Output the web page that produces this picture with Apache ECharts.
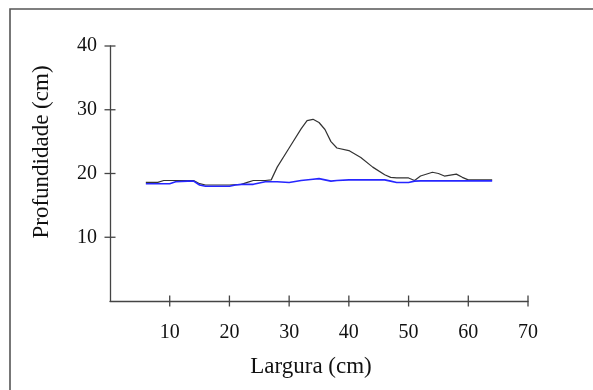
<!DOCTYPE html>
<html>
<head>
<meta charset="utf-8">
<script src="https://cdn.jsdelivr.net/npm/echarts@6/dist/echarts.min.js"></script>
<style>
  html, body { margin: 0; padding: 0; background: #fff; }
  #chart { width: 593px; height: 390px; }
</style>
</head>
<body>
<div id="chart"></div>
<script>
// profile measured before (black) and after (blue)
const blackX = [6, 8, 9, 10, 12, 14, 15, 16, 18, 20, 22, 23, 24, 26, 27, 28, 30, 32, 33, 34, 35, 36, 37, 38, 40, 42, 44, 46, 47, 48, 50, 51, 52, 54, 55, 56, 58, 59, 60, 62, 64];
const blackY = [18.6, 18.6, 18.9, 18.9, 18.9, 18.9, 18.4, 18.2, 18.2, 18.2, 18.3, 18.6, 18.9, 18.9, 19.0, 21.0, 24.0, 27.0, 28.3, 28.5, 28.0, 26.9, 25.0, 24.0, 23.6, 22.5, 21.0, 19.8, 19.4, 19.3, 19.3, 18.9, 19.6, 20.2, 20.0, 19.6, 19.9, 19.4, 19.0, 19.0, 19.0];
const blueX = [6, 8, 10, 11, 13, 14, 15, 16, 18, 20, 21, 22, 24, 25, 26, 28, 30, 32, 34, 35, 36, 37, 38, 40, 42, 44, 46, 47, 48, 50, 51, 52, 54, 56, 58, 60, 62, 64];
const blueY = [18.4, 18.4, 18.4, 18.7, 18.8, 18.8, 18.2, 18.0, 18.0, 18.0, 18.2, 18.3, 18.3, 18.5, 18.7, 18.7, 18.6, 18.9, 19.1, 19.2, 19.0, 18.8, 18.9, 19.0, 19.0, 19.0, 19.0, 18.8, 18.6, 18.6, 18.8, 18.85, 18.85, 18.85, 18.85, 18.85, 18.85, 18.85];

const xTicks = [10, 20, 30, 40, 50, 60, 70];
const yTicks = [10, 20, 30, 40];

const chart = echarts.init(document.getElementById('chart'));

const serif = 'Liberation Serif';
const axisColor = '#444';
const tickHalf = 5.5;

function pairs(xs, ys) {
  return xs.map((x, i) => [x, ys[i]]);
}

// ticks that cross the axis line, placed through the axis scale
function crossTick(vertical) {
  return (params, api) => {
    const p = api.coord([api.value(0), api.value(1)]);
    const shape = vertical
      ? { x1: p[0], y1: p[1] - tickHalf, x2: p[0], y2: p[1] + tickHalf }
      : { x1: p[0] - tickHalf, y1: p[1], x2: p[0] + tickHalf, y2: p[1] };
    return { type: 'line', shape: shape, style: { stroke: axisColor, lineWidth: 1.3 } };
  };
}

const axisLine = { show: true, onZero: false, lineStyle: { color: axisColor, width: 1.3 } };

chart.setOption({
  animation: false,
  grid: { left: 110, top: 46, right: 65, bottom: 89 },
  graphic: [
    {
      type: 'rect',
      shape: { x: 10, y: 9, width: 700, height: 500 },
      style: { fill: 'none', stroke: '#555', lineWidth: 1.6 }
    },
    {
      type: 'text',
      x: 42, y: 152,
      rotation: Math.PI / 2,
      style: {
        text: 'Profundidade (cm)',
        font: '23px "Liberation Serif"',
        fill: '#111',
        align: 'center',
        verticalAlign: 'middle'
      }
    }
  ],
  xAxis: {
    type: 'value', min: 0, max: 70, interval: 10,
    name: 'Largura (cm)',
    nameLocation: 'middle',
    nameGap: 54,
    nameTextStyle: { fontFamily: serif, fontSize: 23, color: '#111', padding: [0, 16, 0, 0] },
    axisLine: axisLine,
    axisTick: { show: false },
    axisLabel: { margin: 22, fontFamily: serif, fontSize: 20, color: '#111', customValues: xTicks },
    splitLine: { show: false }
  },
  yAxis: {
    type: 'value', min: 0, max: 40, interval: 10,
    axisLine: axisLine,
    axisTick: { show: false },
    axisLabel: { margin: 13, fontFamily: serif, fontSize: 20, color: '#111', customValues: yTicks },
    splitLine: { show: false }
  },
  series: [
    {
      type: 'line',
      data: pairs(blackX, blackY),
      showSymbol: false,
      lineStyle: { color: '#333', width: 1.2 },
      z: 2
    },
    {
      type: 'line',
      data: pairs(blueX, blueY),
      showSymbol: false,
      lineStyle: { color: '#2626ff', width: 1.6 },
      z: 3
    },
    {
      type: 'custom',
      clip: false,
      silent: true,
      data: xTicks.map((v) => [v, 0]),
      renderItem: crossTick(true),
      z: 4
    },
    {
      type: 'custom',
      clip: false,
      silent: true,
      data: yTicks.map((v) => [0, v]),
      renderItem: crossTick(false),
      z: 4
    }
  ]
});
</script>
</body>
</html>
